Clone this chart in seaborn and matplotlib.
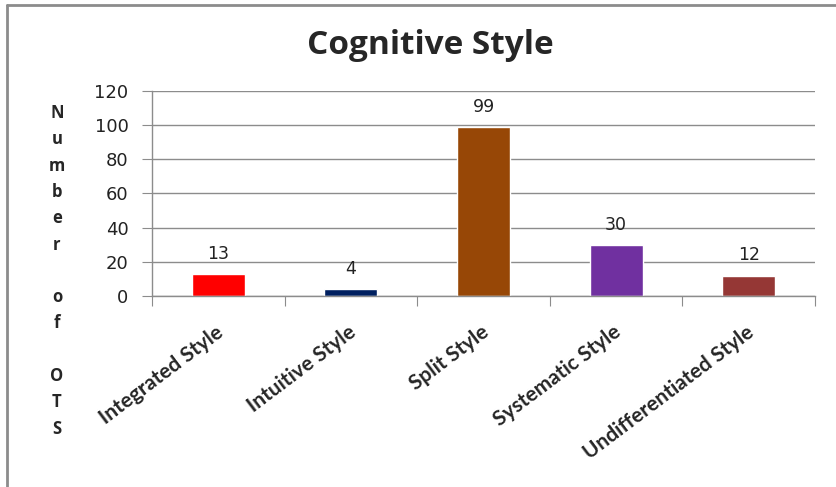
import pandas as pd
import matplotlib.pyplot as plt
import matplotlib.transforms as mtransforms
from matplotlib.lines import Line2D
import seaborn as sns

# 데이터
styles = ['Integrated Style', 'Intuitive Style', 'Split Style',
          'Systematic Style', 'Undifferentiated Style']
counts = [13, 4, 99, 30, 12]
bar_colors = ['#FF0000', '#002060', '#974706', '#7030A0', '#953735']

df = pd.DataFrame({'style': styles, 'count': counts})

sns.set_style('white')
plt.rcParams['font.family'] = ['DejaVu Sans']

fig = plt.figure(figsize=(8.36, 4.87), dpi=100)
ax = fig.add_axes([152 / 836, 1 - 296 / 487, (815 - 152) / 836, (296 - 91) / 487])

sns.barplot(x='style', y='count', data=df, hue='style', palette=bar_colors,
            width=0.4, legend=False, saturation=1, ax=ax)

ax.set_ylim(0, 120)
ax.set_yticks(range(0, 121, 20))
ax.set_xlim(-0.5, 4.5)
ax.yaxis.grid(True, color='#8c8c8c', linewidth=1)
ax.set_axisbelow(True)
for s in ['top', 'right']:
    ax.spines[s].set_visible(False)
for s in ['left', 'bottom']:
    ax.spines[s].set_color('#8c8c8c')
    ax.spines[s].set_linewidth(1)

# 카테고리 경계에 눈금
ax.set_xticks([i - 0.5 for i in range(6)])
ax.set_xticklabels([])
ax.tick_params(axis='x', length=7, color='#8c8c8c', direction='out', bottom=True)
ax.tick_params(axis='y', length=7, color='#8c8c8c', direction='out', left=True,
               labelsize=13, labelcolor='#222222', pad=10)

# 회전된 카테고리 라벨
offset = mtransforms.ScaledTranslation(-3 / 100, -26 / 100, fig.dpi_scale_trans)
for i, name in enumerate(styles):
    ax.text(i, 0, name, rotation=37, ha='right', va='top', rotation_mode='anchor',
            fontsize=15, fontweight='bold', family=['Lato', 'DejaVu Sans'],
            transform=ax.get_xaxis_transform() + offset)

# 값 라벨
for i, v in enumerate(counts):
    ax.annotate(str(v), (i, v), xytext=(0, 8), textcoords='offset points',
                ha='center', va='bottom', fontsize=12.5, color='#222222')

ax.set_xlabel('')
ax.set_ylabel('')

fig.text(430 / 836, 1 - 45 / 487, 'Cognitive Style', ha='center', va='center',
         fontsize=24, fontweight='bold', family=['Open Sans', 'DejaVu Sans'])

# 세로 축 제목 (글자마다 한 줄)
ylabel_chars = ['N', 'u', 'm', 'b', 'e', 'r', '', 'o', 'f', '', 'O', 'T', 'S']
for k, ch in enumerate(ylabel_chars):
    fig.text(57 / 836, 1 - (113 + 26.3 * k) / 487, ch, ha='center', va='center',
             fontsize=12, fontweight='bold', family=['Open Sans', 'DejaVu Sans'])

# 차트 테두리
fig.add_artist(Line2D([7 / 836, 1], [1 - 5 / 487] * 2, color='#8c8c8c', lw=2,
                      transform=fig.transFigure))
fig.add_artist(Line2D([7 / 836] * 2, [0, 1 - 5 / 487], color='#8c8c8c', lw=2,
                      transform=fig.transFigure))

fig.savefig('out.png', dpi=100)
